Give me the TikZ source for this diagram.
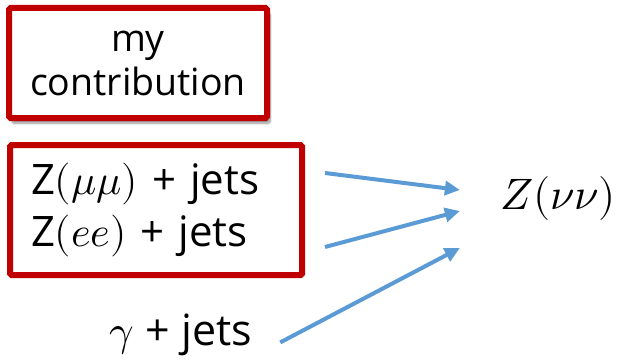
\documentclass[tikz,border=0pt]{standalone}
\usepackage{fontspec}
\usepackage{unicode-math}
\setmainfont{Open Sans}
\setmathfont{Latin Modern Math}
\usetikzlibrary{arrows.meta,shadows.blur}
\definecolor{boxred}{RGB}{192,0,0}
\definecolor{arrowblue}{RGB}{91,155,213}
\tikzset{
  redbox/.style={draw=boxred, line width=6pt, fill=white, rounded corners=1.5pt},
  feed/.style={draw=arrowblue, line width=4pt, -{Triangle[length=15pt,width=14pt]}}
}
\begin{document}
\begin{tikzpicture}[x=1pt,y=-1pt]
\useasboundingbox (0,0) rectangle (623,361);
\node[redbox, minimum width=258pt, minimum height=110pt, align=center,
  font=\fontsize{37.5}{44}\selectfont,
  blur shadow={shadow xshift=3pt, shadow yshift=-5pt, shadow blur steps=8, shadow opacity=45}]
  (mine) at (138,63) {my\\contribution};
\node[redbox, minimum height=130pt, text width=250pt, inner xsep=21pt, align=left,
  font=\fontsize{42}{52}\selectfont]
  (zll) at (156,210) {Z$(\mu\mu)$ + jets\\Z$(ee)$ + jets};
\node[font=\fontsize{44}{50}\selectfont, inner sep=0pt] (znu) at (558,198) {$Z(\nu\nu)$};
\node[font=\fontsize{43}{48}\selectfont, inner sep=0pt, anchor=base] (gam) at (181,345) {$\gamma$ + jets};
\draw[feed] ([xshift=20pt,yshift=37pt]zll.east) -- ([xshift=-40pt,yshift=8pt]znu.west);
\draw[feed] ([xshift=20pt,yshift=-37pt]zll.east) -- ([xshift=-40pt,yshift=-13pt]znu.west);
\draw[feed] ([xshift=28pt,yshift=-8pt]gam.east) -- ([xshift=-40pt,yshift=-50pt]znu.west);
\end{tikzpicture}
\end{document}
